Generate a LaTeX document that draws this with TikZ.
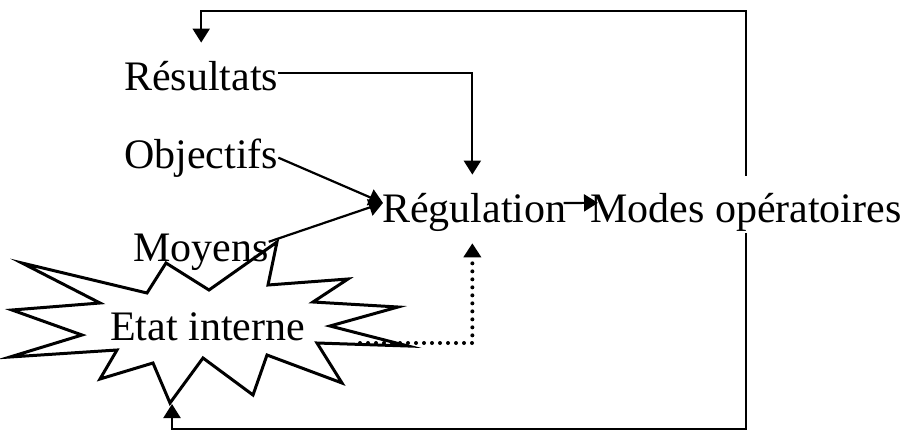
\documentclass[tikz,border=0pt]{standalone}
\usepackage{fontspec}
\setmainfont{Liberation Serif}
\usetikzlibrary{arrows.meta,calc}
\begin{document}
\begin{tikzpicture}[x=1pt,y=-1pt,
  lbl/.style={anchor=base west,inner sep=0pt,font=\fontsize{42}{50}\selectfont},
  conn/.style={line width=2.2pt},
  arr/.style={conn,-{Triangle[length=14pt,width=17pt]}},
  dots/.style={line width=4pt,line cap=round,dash pattern=on 0pt off 8pt,-{Triangle[length=14pt,width=17pt]}}]
\useasboundingbox (0,0) rectangle (908,431);
% star
\draw[line width=3pt,fill=white,line join=miter] (22,263) -- (147,293) -- (166,263) -- (209,290) -- (277,242) -- (268,285) -- (348,279) -- (313,302) -- (398,307) -- (330,326) -- (408,346) -- (317,343) -- (342,383) -- (267,355) -- (253,395) -- (203,358) -- (170,403) -- (153,363) -- (100,379) -- (117,350) -- (10,357) -- (82,335) -- (12,310) -- (100,303) -- cycle;
\node[lbl] (res) at (124,90) {Résultats};
\node[lbl] (obj) at (124,168) {Objectifs};
\node[lbl] (moy) at (133,261) {Moyens};
\node[lbl] (reg) at (382,222) {Régulation};
\node[lbl] (mod) at (590,222) {Modes opératoires};
\node[lbl] (etat) at (110,340) {Etat interne};
\coordinate (topy) at (0,11);
\coordinate (boty) at (0,429);
\coordinate (sbot) at (172,404);
\coordinate (dstart) at (360,343);
% connectors
\draw[arr] ([yshift=3pt]res.east) -| ([yshift=18pt,xshift=-2pt]reg.north);
\draw[arr] (obj.east) -- ([xshift=1pt,yshift=9pt]reg.west);
\draw[arr] ([yshift=10pt]moy.east) -- ([xshift=1pt,yshift=9pt]reg.west);
\draw[arr] ([xshift=-3pt,yshift=9pt]reg.east) -- ([xshift=8pt,yshift=9pt]mod.west);
\draw[arr] ([yshift=17pt]mod.north) -- (mod.north |- topy) -| ([yshift=18pt]res.north);
\draw[arr] ([yshift=-2pt]mod.south) -- (mod.south |- boty) -| (sbot);
\draw[dots] (dstart) -| ([xshift=-2pt,yshift=-12pt]reg.south);
\end{tikzpicture}
\end{document}
